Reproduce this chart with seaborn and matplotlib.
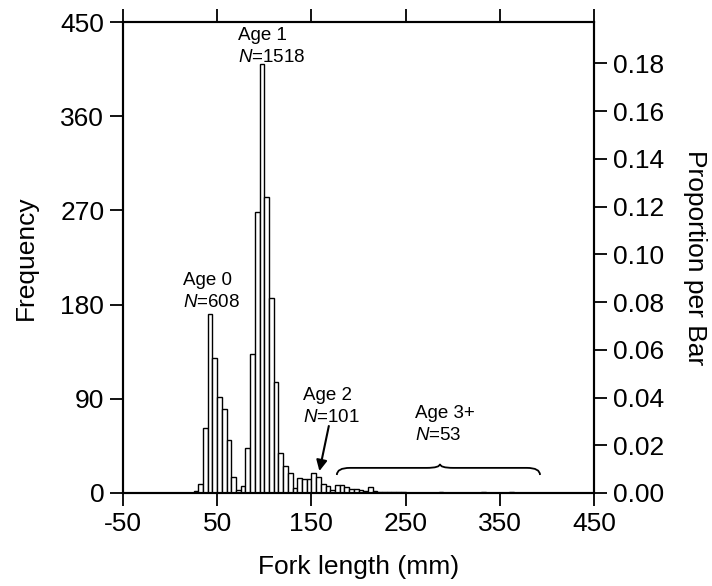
import numpy as np
import pandas as pd
import matplotlib
matplotlib.use("Agg")
import matplotlib.pyplot as plt
from matplotlib.path import Path
from matplotlib.patches import PathPatch
import seaborn as sns

# ---- data (5-mm fork-length bins, left edges) ----
bin_left = [25, 30, 35, 40, 45, 50, 55, 60, 65, 70, 75, 80, 85, 90, 95, 100,
            105, 110, 115, 120, 125, 130, 135, 140, 145, 150, 155, 160, 165,
            170, 175, 180, 185, 190, 195, 200, 205, 210, 215, 220, 225, 230,
            235, 240, 245, 285, 330, 360]
counts = [2, 9, 62, 171, 129, 92, 80, 51, 15, 3, 7, 43, 133, 268, 410, 283,
          186, 106, 38, 26, 19, 5, 14, 13, 13, 19, 15, 9, 7,
          3, 8, 8, 6, 4, 4, 3, 2, 6, 2, 1, 1, 1,
          1, 1, 1, 1, 1, 1]
bin_width = 5
total_n = 2280
freq_ticks = [0, 90, 180, 270, 360, 450]
x_ticks = [-50, 50, 150, 250, 350, 450]
prop_ticks = [0.00, 0.02, 0.04, 0.06, 0.08, 0.10, 0.12, 0.14, 0.16, 0.18]
groups = ["Age 0", "Age 1", "Age 2", "Age 3+"]
group_n = [608, 1518, 101, 53]

df = pd.DataFrame({"center": np.array(bin_left, dtype=float) + bin_width / 2,
                   "count": np.array(counts, dtype=float)})

sns.set_style("ticks")
plt.rcParams["font.family"] = ["Liberation Sans", "DejaVu Sans"]
plt.rcParams["mathtext.fontset"] = "custom"
plt.rcParams["mathtext.rm"] = "Liberation Sans"
plt.rcParams["mathtext.it"] = "Liberation Sans:italic"
plt.rcParams["axes.unicode_minus"] = False
for k in ["text.color", "axes.labelcolor", "xtick.color", "ytick.color",
          "axes.edgecolor"]:
    plt.rcParams[k] = "black"

fig = plt.figure(figsize=(7.12, 5.86), dpi=100)
ax = fig.add_axes([123 / 712, 93 / 586, (594 - 123) / 712, (493 - 22) / 586])

sns.histplot(data=df, x="center", weights="count", binwidth=bin_width,
             binrange=(25, 365), ax=ax,
             color="white", edgecolor="black", linewidth=1.0, alpha=1)

ax.set_xlim(-50, 450)
ax.set_ylim(0, 450)
ax.set_xticks(x_ticks)
ax.set_yticks(freq_ticks)
ax.set_xlabel("Fork length (mm)", fontsize=19, labelpad=14)
ax.set_ylabel("Frequency", fontsize=19, labelpad=16)
ax.tick_params(axis="both", which="both", direction="out", length=9.5,
               width=1.3, labelsize=19, pad=4, top=True, color="black",
               labelcolor="black")
for s in ax.spines.values():
    s.set_visible(True)
    s.set_linewidth(1.5)
    s.set_color("black")

ax2 = ax.twinx()
ax2.set_ylim(0, 450 / total_n)
ax2.set_yticks(prop_ticks)
ax2.set_yticklabels([f"{v:.2f}" for v in prop_ticks])
ax2.tick_params(axis="y", direction="out", length=9.5, width=1.3,
                labelsize=19, pad=4, color="black", labelcolor="black")
ax2.set_ylabel("Proportion per Bar", fontsize=19, rotation=-90, labelpad=31)
for s in ax2.spines.values():
    s.set_linewidth(1.5)
    s.set_color("black")

# ---- annotations ----
fs = 13.5
ann_pos = [(13.5, 211), (72, 445), (141, 101), (260, 84)]
for (gx, gy), g, n in zip(ann_pos, groups, group_n):
    ax.text(gx, gy, g, fontsize=fs, ha="left", va="top")
    ax.text(gx, gy - 20.5, r"$\mathit{N}$=" + str(n), fontsize=fs, ha="left", va="top")

ax.annotate("", xy=(158.5, 21), xytext=(168.5, 64),
            arrowprops=dict(arrowstyle="-|>", color="black", lw=1.5,
                            mutation_scale=16, shrinkA=0, shrinkB=0))

# curly brace over Age 3+ bars
x0, x1, xm = 177, 392.7, 286.5
yb, yf, yc = 17.2, 24.0, 27.7
r = 14
verts = [(x0, yb), (x0, yf), (x0 + r, yf),
         (xm - r, yf), (xm, yf), (xm, yc),
         (xm, yf), (xm + r, yf),
         (x1 - r, yf), (x1, yf), (x1, yb)]
codes = [Path.MOVETO, Path.CURVE3, Path.CURVE3,
         Path.LINETO, Path.CURVE3, Path.CURVE3,
         Path.CURVE3, Path.CURVE3,
         Path.LINETO, Path.CURVE3, Path.CURVE3]
ax.add_patch(PathPatch(Path(verts, codes), fill=False, edgecolor="black", lw=1.3))

fig.savefig("out.png", dpi=100, facecolor="white")
